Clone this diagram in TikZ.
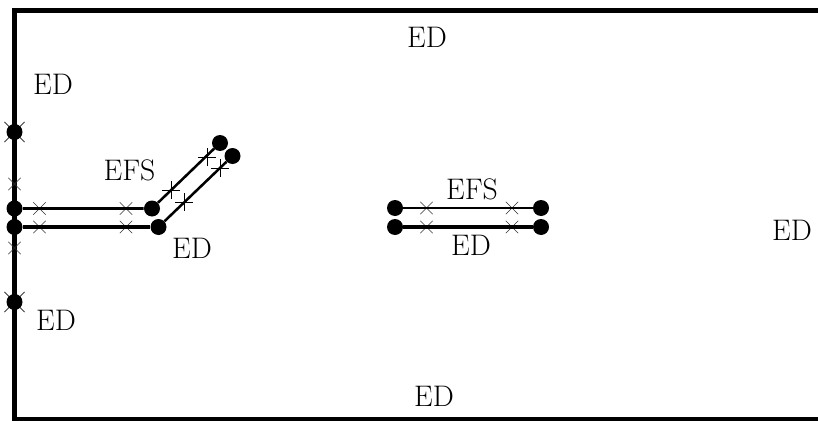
\documentclass[tikz,border=0pt]{standalone}
\usetikzlibrary{shapes.misc}
\tikzset{
  dot/.style={circle,fill=black,draw=none,inner sep=0pt,minimum size=12pt},
  tick/.style={cross out,draw=black!80,line width=0.5pt,inner sep=0pt,minimum size=8.8pt},
  ticklarge/.style={cross out,draw=black!75,line width=0.55pt,inner sep=0pt,minimum size=14.5pt},
  lab/.style={inner sep=0pt,font=\fontsize{22.3}{25}\selectfont},
  frame/.style={line width=3.7pt,line cap=butt,line join=miter},
  crack/.style={line width=1.9pt},
  crackb/.style={line width=2.4pt},
}
\begin{document}
\begin{tikzpicture}[x=0.75pt,y=-0.75pt]
\useasboundingbox (0,0) rectangle (818,421);
\fill[white] (0,0) rectangle (818,421);
\coordinate (tr) at (818,10.5);
\coordinate (tl) at (14.5,10.5);
\coordinate (bl) at (14.5,419);
\coordinate (br) at (818,419);
\draw[frame] (tr) -- (tl) -- (bl) -- (br);
% ticks on the boundary
\node[ticklarge] (k1) at (14.5,132) {};
\node[ticklarge] (k2) at (14.5,302) {};
\node[tick] (k3) at (14.5,184) {};
\node[tick] (k4) at (14.5,248) {};
% ticks on left crack
\node[tick] (t1) at (39.5,208.5) {};
\node[tick] (t2) at (126,208.5) {};
\node[tick] (t3) at (39.5,227) {};
\node[tick] (t4) at (126,227) {};
\node[tick,rotate=45,draw=black] (t5) at (171,190) {};
\node[tick,rotate=45,draw=black] (t6) at (207,157) {};
\node[tick,rotate=45,draw=black] (t7) at (184,202) {};
\node[tick,rotate=45,draw=black] (t8) at (220,168) {};
% ticks on middle crack
\node[tick] (m1) at (426.5,208) {};
\node[tick] (m2) at (512,208) {};
\node[tick] (m3) at (426.5,227) {};
\node[tick] (m4) at (512,227) {};
% dots
\node[dot] (a) at (14.5,132) {};
\node[dot] (b) at (14.5,208.5) {};
\node[dot] (c) at (14.5,227) {};
\node[dot] (d) at (14.5,302) {};
\node[dot] (e) at (152,208.5) {};
\node[dot] (f) at (158.5,227) {};
\node[dot] (g) at (220,143) {};
\node[dot] (h) at (232.5,156) {};
\node[dot] (p) at (395,208) {};
\node[dot] (q) at (395,227) {};
\node[dot] (r) at (541,208) {};
\node[dot] (s) at (541,227) {};
% crack lines
\draw[crack] (b) -- (e) -- (g);
\draw[crackb] (c) -- (f);
\draw[crack] (f) -- (h);
\draw[crack] (p) -- (r);
\draw[crackb] (q) -- (s);
% labels
\node[lab] (l1) at (53,84) {ED};
\node[lab] (l2) at (427,37) {ED};
\node[lab] (l3) at (129.5,170) {EFS};
\node[lab] (l4) at (472,189) {EFS};
\node[lab] (l5) at (192,248) {ED};
\node[lab] (l6) at (471,245) {ED};
\node[lab] (l7) at (792,230) {ED};
\node[lab] (l8) at (56,320) {ED};
\node[lab] (l9) at (434,396) {ED};
\end{tikzpicture}
\end{document}
